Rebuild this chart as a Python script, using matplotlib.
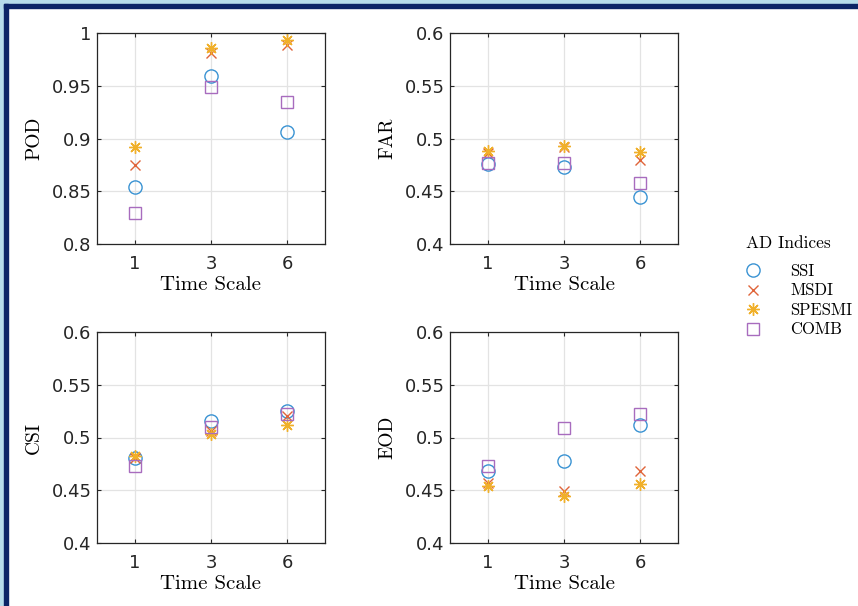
import matplotlib
matplotlib.use('Agg')
import matplotlib.pyplot as plt
from matplotlib.patches import Rectangle

# time scales (categorical positions 1..3)
time_scales = ['1', '3', '6']
indices = ['SSI', 'MSDI', 'SPESMI', 'COMB']

# metric values per index, one entry per time scale
pod = {
    'SSI':    [0.854, 0.959, 0.906],
    'MSDI':   [0.875, 0.981, 0.989],
    'SPESMI': [0.892, 0.986, 0.993],
    'COMB':   [0.829, 0.949, 0.935],
}
far = {
    'SSI':    [0.476, 0.473, 0.445],
    'MSDI':   [0.486, 0.492, 0.480],
    'SPESMI': [0.488, 0.493, 0.487],
    'COMB':   [0.477, 0.477, 0.458],
}
csi = {
    'SSI':    [0.481, 0.516, 0.525],
    'MSDI':   [0.481, 0.506, 0.520],
    'SPESMI': [0.482, 0.503, 0.512],
    'COMB':   [0.473, 0.510, 0.522],
}
eod = {
    'SSI':    [0.468, 0.478, 0.512],
    'MSDI':   [0.457, 0.449, 0.468],
    'SPESMI': [0.454, 0.445, 0.456],
    'COMB':   [0.473, 0.509, 0.522],
}

# MATLAB-ish marker styles; '*' there is an 8-armed asterisk
markers = {'SSI': 'o', 'MSDI': 'x', 'SPESMI': (8, 2, 0), 'COMB': 's'}
colors = {'SSI': '#3a93d3', 'MSDI': '#e0643a', 'SPESMI': '#f0b02a', 'COMB': '#a86cbe'}
sizes = {'SSI': 9.5, 'MSDI': 7.5, 'SPESMI': 9, 'COMB': 8}

W, H = 858, 606
fig = plt.figure(figsize=(W / 100, H / 100), dpi=100)

serif = 'cmr10'
tick_font = 'DejaVu Sans'


def panel(rect, data, ylabel, ylim, yticks, yticklabels):
    ax = fig.add_axes(rect)
    x = range(1, len(time_scales) + 1)
    for name in indices:
        kw = dict(linestyle='none', marker=markers[name], markersize=sizes[name],
                  color=colors[name], markeredgewidth=1.0, label=name)
        if name in ('SSI', 'COMB'):
            kw['markerfacecolor'] = 'none'
        ax.plot(list(x), data[name], **kw)
    ax.set_xlim(0.5, 3.5)
    ax.set_ylim(*ylim)
    ax.set_xticks(list(x))
    ax.set_xticklabels(time_scales, fontfamily=tick_font, fontsize=13)
    ax.set_yticks(yticks)
    ax.set_yticklabels(yticklabels, fontfamily=tick_font, fontsize=13)
    ax.tick_params(direction='in', length=3, color='#262626', labelcolor='#262626', pad=4)
    ax.tick_params(axis='x', pad=8)
    ax.tick_params(top=True, right=True)
    ax.grid(True, color='#e3e3e3', linewidth=0.9)
    ax.set_axisbelow(True)
    for s in ax.spines.values():
        s.set_color('#262626')
        s.set_linewidth(0.9)
    ax.set_xlabel('Time Scale', fontfamily=serif, fontsize=15, labelpad=2)
    ax.set_ylabel(ylabel, fontfamily=serif, fontsize=14, labelpad=6)
    return ax


w = 228 / W
h = 211 / H
ax1 = panel([97 / W, 1 - 244 / H, w, h], pod, 'POD', (0.8, 1.0),
            [0.8, 0.85, 0.9, 0.95, 1.0], ['0.8', '0.85', '0.9', '0.95', '1'])
ax2 = panel([450 / W, 1 - 244 / H, w, h], far, 'FAR', (0.4, 0.6),
            [0.4, 0.45, 0.5, 0.55, 0.6], ['0.4', '0.45', '0.5', '0.55', '0.6'])
ax3 = panel([97 / W, 1 - 543 / H, w, h], csi, 'CSI', (0.4, 0.6),
            [0.4, 0.45, 0.5, 0.55, 0.6], ['0.4', '0.45', '0.5', '0.55', '0.6'])
ax4 = panel([450 / W, 1 - 543 / H, w, h], eod, 'EOD', (0.4, 0.6),
            [0.4, 0.45, 0.5, 0.55, 0.6], ['0.4', '0.45', '0.5', '0.55', '0.6'])

handles, labels = ax1.get_legend_handles_labels()
fig.text(746 / W, 1 - 243 / H, 'AD Indices', fontfamily=serif, fontsize=12.5, va='center', ha='left')
fig.legend(handles, labels, loc='upper left', bbox_to_anchor=(730 / W, 1 - 257 / H),
           frameon=False, prop={'family': serif, 'size': 12},
           handletextpad=1.2, labelspacing=0.25, borderaxespad=0)

# slide frame: light blue strip plus navy rule on left and top
fig.patches.append(Rectangle((0, 0), 4 / W, 1, transform=fig.transFigure, color='#b6dcea', zorder=0))
fig.patches.append(Rectangle((4 / W, 0), 4 / W, 1 - 4 / H, transform=fig.transFigure, color='#0b2466', zorder=1))
fig.patches.append(Rectangle((0, 1 - 4 / H), 1, 4 / H, transform=fig.transFigure, color='#b6dcea', zorder=0))
fig.patches.append(Rectangle((4 / W, 1 - 8 / H), 1, 4 / H, transform=fig.transFigure, color='#0b2466', zorder=1))

fig.savefig('out.png', dpi=100)
